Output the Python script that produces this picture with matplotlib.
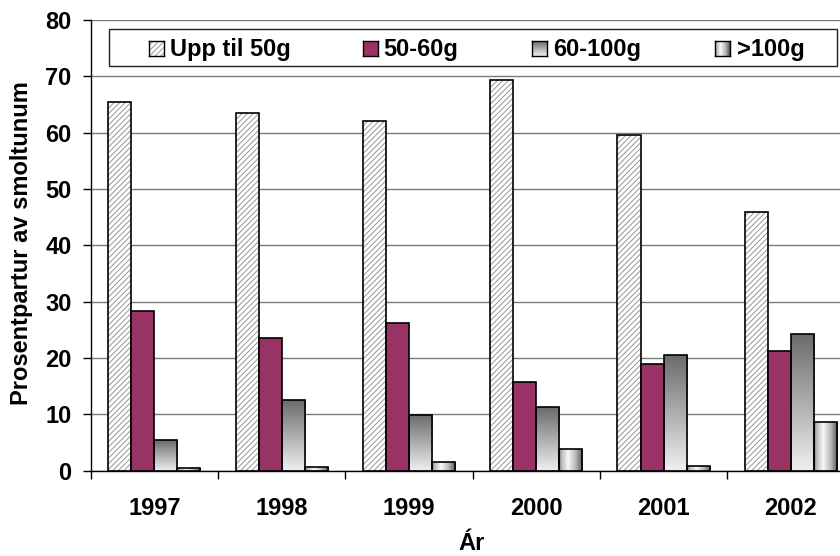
import numpy as np
import matplotlib
matplotlib.use("Agg")
import matplotlib.pyplot as plt
from matplotlib.patches import Rectangle
from matplotlib.ticker import FixedLocator

plt.rcParams['font.family'] = ['Liberation Sans', 'DejaVu Sans']
plt.rcParams['font.weight'] = 'bold'
plt.rcParams['hatch.linewidth'] = 0.7
plt.rcParams['hatch.color'] = '#959595'

# ---- data ----
years = ['1997', '1998', '1999', '2000', '2001', '2002']
series_names = ['Upp til 50g', '50-60g', '60-100g', '>100g']
upp_til_50 = [65.4, 63.5, 62.1, 69.3, 59.5, 45.9]
g50_60 = [28.4, 23.5, 26.2, 15.8, 19.0, 21.2]
g60_100 = [5.4, 12.5, 9.9, 11.3, 20.5, 24.2]
over_100 = [0.5, 0.6, 1.6, 3.9, 0.8, 8.7]
yticks = [0, 10, 20, 30, 40, 50, 60, 70, 80]

W, H = 840, 556
fig = plt.figure(figsize=(W / 100, H / 100), dpi=100)

def px_rect(x0, y0, x1, y1):
    return [x0 / W, 1 - y1 / H, (x1 - x0) / W, (y1 - y0) / H]

ax = fig.add_axes(px_rect(90.7, 20, 90.7 + 6 * 127.3, 470.7))

x = np.arange(len(years))
bw = 0.181
offs = [-1.5 * bw, -0.5 * bw, 0.5 * bw, 1.5 * bw]

# gradients
vgrad = np.linspace(0.94, 0.42, 256).reshape(-1, 1)  # bottom -> top (origin lower)
hx = np.linspace(0, 1, 256)
hvals = np.interp(hx, [0, 0.1, 0.38, 0.7, 1.0], [0.45, 0.72, 0.97, 0.72, 0.33])
hgrad = hvals.reshape(1, -1)

# series 1: hatched
ax.bar(x + offs[0], upp_til_50, bw, facecolor='white', edgecolor='#959595',
       linewidth=0, hatch='//////', zorder=2)
ax.bar(x + offs[0], upp_til_50, bw, facecolor='none', edgecolor='black',
       linewidth=1.2, zorder=3)
# series 2: maroon
ax.bar(x + offs[1], g50_60, bw, facecolor='#993366', edgecolor='black',
       linewidth=1.2, zorder=3)
# series 3: vertical gradient
bars3 = ax.bar(x + offs[2], g60_100, bw, facecolor='none', edgecolor='black',
               linewidth=1.2, zorder=3)
for b in bars3:
    im = ax.imshow(vgrad, cmap='gray', vmin=0, vmax=1, origin='lower', aspect='auto',
                   extent=(b.get_x(), b.get_x() + b.get_width(), 0, b.get_height()),
                   zorder=2.5, interpolation='bilinear')
    im.set_clip_path(b)
# series 4: horizontal gradient
bars4 = ax.bar(x + offs[3], over_100, bw, facecolor='none', edgecolor='black',
               linewidth=1.2, zorder=3)
for b in bars4:
    im = ax.imshow(hgrad, cmap='gray', vmin=0, vmax=1, origin='lower', aspect='auto',
                   extent=(b.get_x(), b.get_x() + b.get_width(), 0, b.get_height()),
                   zorder=2.5, interpolation='bilinear')
    im.set_clip_path(b)

ax.set_xlim(-0.5, len(years) - 0.5)
ax.set_ylim(0, 80)
ax.set_yticks(yticks)
ax.set_yticklabels([str(v) for v in yticks])
ax.set_xticks(x)
ax.set_xticklabels(years)
ax.xaxis.set_minor_locator(FixedLocator(np.arange(-0.5, len(years), 1.0)))
ax.tick_params(axis='x', which='major', length=0, pad=19, labelsize=17)
ax.tick_params(axis='x', which='minor', length=5.8, width=1, direction='out')
ax.tick_params(axis='y', which='major', length=5.8, width=1, direction='out', pad=8, labelsize=17)
ax.yaxis.grid(True, color='#7a7a7a', linewidth=1)
ax.set_axisbelow(True)
for s in ['top', 'right']:
    ax.spines[s].set_visible(False)
for s in ['left', 'bottom']:
    ax.spines[s].set_linewidth(1)
    ax.spines[s].set_zorder(4)

# axis titles
fig.text(22 / W, 1 - 243.5 / H, 'Prosentpartur av smoltunum', rotation=90,
         ha='center', va='center', fontsize=17, fontweight='bold')
fig.text(472 / W, 1 - 550 / H, 'Ár', ha='center', va='baseline',
         fontsize=17, fontweight='bold')

# legend (manual)
fig.add_artist(Rectangle((109.3 / W, 1 - 65.7 / H), (836.7 - 109.3) / W, (65.7 - 29) / H,
                         transform=fig.transFigure, facecolor='white', edgecolor='#222222',
                         linewidth=1, zorder=5))
sw_x = [149, 363, 532, 715]
txt_x = [170, 383, 553, 737]
for i, (sx, tx, name) in enumerate(zip(sw_x, txt_x, series_names)):
    sax = fig.add_axes(px_rect(sx, 41, sx + 15, 56), zorder=6)
    sax.set_xlim(0, 1)
    sax.set_ylim(0, 1)
    sax.set_xticks([])
    sax.set_yticks([])
    if i == 0:
        sax.add_patch(Rectangle((0, 0), 1, 1, facecolor='white', edgecolor='#959595',
                                linewidth=0, hatch='//////'))
    elif i == 1:
        sax.add_patch(Rectangle((0, 0), 1, 1, facecolor='#993366', linewidth=0))
    elif i == 2:
        sax.imshow(vgrad, cmap='gray', vmin=0, vmax=1, origin='lower', aspect='auto',
                   extent=(0, 1, 0, 1), interpolation='bilinear')
    else:
        sax.imshow(hgrad, cmap='gray', vmin=0, vmax=1, origin='lower', aspect='auto',
                   extent=(0, 1, 0, 1), interpolation='bilinear')
    for sp in sax.spines.values():
        sp.set_linewidth(1)
        sp.set_color('black')
    t = fig.text(tx / W, 1 - 56 / H, name, ha='left', va='baseline',
                 fontsize=17, fontweight='bold')
    t.set_zorder(7)

fig.savefig('out.png', dpi=100)
